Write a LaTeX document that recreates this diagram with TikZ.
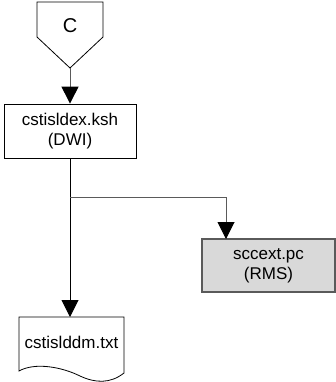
\documentclass[tikz,border=0pt]{standalone}
\usepackage{fontspec}
\setmainfont{Liberation Sans}
\usetikzlibrary{arrows.meta}
\definecolor{lineg}{HTML}{5A5A5A}
\definecolor{boxg}{HTML}{D9D9D9}
\tikzset{
  conn/.style={draw=lineg, line width=1pt, -{Triangle[length=17pt,width=17pt,color=black]}},
  procbox/.style={draw=black, line width=0.8pt, minimum width=132pt, minimum height=54pt, align=center, font=\fontsize{17}{20}\selectfont, inner sep=0pt},
  graybox/.style={procbox, fill=boxg, draw=lineg, line width=1.2pt},
  lbl/.style={font=\fontsize{17}{20}\selectfont, inner sep=0pt}
}
\begin{document}
\begin{tikzpicture}[x=1pt,y=1pt]
\useasboundingbox (0,0) rectangle (336,-382);
% off-page connector
\draw[line width=0.8pt] (37,-2) -- (103,-2) -- (103,-37) -- (70,-68) -- (37,-37) -- cycle;
\node[lbl, font=\fontsize{20}{24}\selectfont] (c) at (70,-26) {C};
\coordinate (ctip) at (70,-68);
% process box
\node[procbox] (dex) at (70,-131) {cstisldex.ksh\\(DWI)};
% gray box
\node[graybox, minimum width=133pt, minimum height=53pt] (scc) at (268.5,-265.5) {sccext.pc\\(RMS)};
% document
\draw[line width=0.8pt] (19,-317) -- (124,-317) -- (124,-373)
  .. controls (110,-384) and (95,-383) .. (80,-376)
  .. controls (62,-367) and (35,-362) .. (19,-371) -- cycle;
\node[lbl] (ddm) at (71.5,-342) {cstislddm.txt};
\coordinate (ddmtop) at (70,-317);
\coordinate (br) at (70,-197);
\coordinate (scctop) at (226,-239);
% connectors
\draw[conn] (ctip) -- (dex.north);
\draw[conn, draw=black] (dex.south) -- (ddmtop);
\draw[conn] (br) -| (scctop);
\end{tikzpicture}
\end{document}
